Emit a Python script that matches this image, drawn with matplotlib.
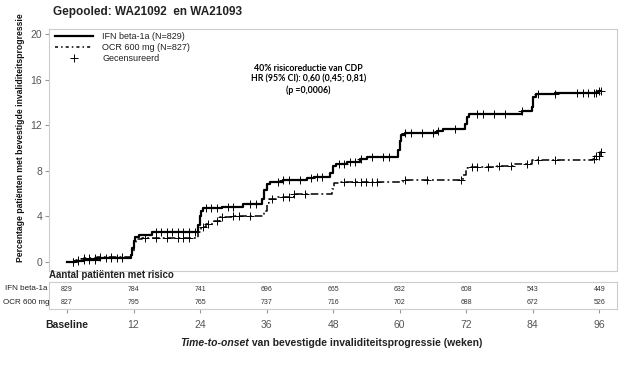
import numpy as np
import matplotlib
matplotlib.use("Agg")
import matplotlib.pyplot as plt
from matplotlib.lines import Line2D

plt.rcParams['font.family'] = ['Liberation Sans', 'DejaVu Sans']

# ---------------- data ----------------
ifn_t = [0, 1.5, 3, 6, 11.5, 11.8, 12.0, 12.3, 13.0, 15.3, 23.6, 23.9, 24.2, 24.6,
         28, 31.8, 35.2, 35.6, 36.0, 36.6, 39, 43.3, 44.5, 47.5, 47.9, 48.5, 50.5,
         52.9, 54.1, 59.7, 60.0, 60.3, 61, 66.8, 67.9, 71.8, 72.1, 72.5, 82, 83.8,
         84.1, 84.5, 88.1, 95.8]
ifn_v = [0, 0.1, 0.2, 0.3, 0.6, 1.2, 1.8, 2.2, 2.35, 2.6, 3.2, 4.0, 4.5, 4.7,
         4.85, 5.1, 5.5, 6.3, 6.8, 7.0, 7.2, 7.35, 7.45, 7.8, 8.4, 8.6, 8.8,
         9.0, 9.2, 9.8, 10.6, 11.1, 11.3, 11.5, 11.7, 12.1, 12.7, 13.0, 13.2, 13.6,
         14.5, 14.7, 14.85, 15.0]
ifn_cens = [1, 2, 3, 4, 5, 7, 8, 9, 10, 16, 17, 18, 19, 20, 21, 22, 23, 25, 26, 27,
            29, 30, 33, 34, 38, 39, 40, 42, 44, 45, 46, 49, 50, 51, 52, 53, 55, 57,
            58, 61, 62, 64, 66, 67, 70, 74, 75, 77, 79, 82, 85, 88, 92, 93, 94, 95,
            95.5, 96, 96.3]

ocr_t = [0, 1.5, 3, 5.5, 11.6, 12.0, 12.4, 13.5, 23.6, 24.1, 25.0, 26.5, 27.6, 30,
         35.6, 36.0, 36.4, 38, 41, 47.8, 48.2, 49, 60.6, 71.5, 71.9, 72.3, 77.6,
         80.5, 83.9, 94.8, 95.5, 96.1]
ocr_v = [0, 0.15, 0.3, 0.4, 0.8, 1.6, 2.0, 2.1, 2.6, 3.1, 3.3, 3.6, 3.9, 4.0,
         4.5, 5.2, 5.5, 5.7, 6.0, 6.4, 6.9, 7.0, 7.2, 7.6, 8.2, 8.3, 8.4,
         8.55, 8.9, 9.05, 9.25, 9.6]
ocr_cens = [1, 2, 3, 4, 5, 6, 8, 10, 14, 16, 18, 20, 21, 22, 24.5, 25.5, 27, 28, 30,
            31, 33, 37, 39, 40, 41, 43, 50, 52, 53, 54, 55, 56, 61, 65, 71, 73, 74,
            76, 78, 80, 83, 85, 88, 95, 95.5, 96, 96.3]

xticks = [0, 12, 24, 36, 48, 60, 72, 84, 96]
xticklabels = ["Baseline", "12", "24", "36", "48", "60", "72", "84", "96"]
yticks = [0, 4, 8, 12, 16, 20]
ifn_risk = [829, 784, 741, 696, 665, 632, 608, 543, 449]
ocr_risk = [827, 795, 765, 737, 716, 702, 688, 672, 526]

ifn_label = "IFN beta-1a (N=829)"
ocr_label = "OCR 600 mg (N=827)"
cens_label = "Gecensureerd"

# ---------------- figure ----------------
fig = plt.figure(figsize=(6.24, 3.67), dpi=100)
ax = fig.add_axes([0.0785, 0.2616, 0.9103, 0.6594])
xlim = (-3.25, 99.2)
ax.set_xlim(*xlim)
ax.set_ylim(-0.8, 20.44)

def step_val(times, vals, t):
    i = np.searchsorted(times, t, side='right') - 1
    return vals[max(i, 0)]

ifn_end = 96.3
ocr_end = 96.3
ax.step(ifn_t + [ifn_end], ifn_v + [ifn_v[-1]], where='post', color='black', lw=1.6)
ax.step(ocr_t + [ocr_end], ocr_v + [ocr_v[-1]], where='post', color='black', lw=1.1,
        dashes=[5, 2, 1.2, 2])

ax.plot(ifn_cens, [step_val(ifn_t, ifn_v, t) for t in ifn_cens], ls='none',
        marker='+', ms=6, mew=0.7, color='black')
ax.plot(ocr_cens, [step_val(ocr_t, ocr_v, t) for t in ocr_cens], ls='none',
        marker='+', ms=6, mew=0.7, color='black')

ax.set_yticks(yticks)
ax.set_yticklabels([str(v) for v in yticks], fontsize=7.5, color='#555555')
ax.set_xticks([])
ax.tick_params(axis='y', length=3, color='#999999', pad=2)
for s in ax.spines.values():
    s.set_color('#cccccc')
    s.set_linewidth(0.8)

fig.text(21/624, 1 - 138/367,
         "Percentage patiënten met bevestigde invaliditeitsprogressie",
         fontsize=6.2, fontweight='bold', rotation=90, ha='center', va='center',
         color='#111111')

handles = [Line2D([], [], color='black', lw=1.6),
           Line2D([], [], color='black', lw=1.1, dashes=[2, 2, 1, 2]),
           Line2D([], [], ls='none', marker='+', ms=6, mew=0.7, color='black')]
leg = ax.legend(handles, [ifn_label, ocr_label, cens_label], loc='upper left',
                bbox_to_anchor=(0.0, 1.015), frameon=False, fontsize=6.5,
                handlelength=4.2, handletextpad=1.0, labelspacing=0.25,
                borderaxespad=0.3)
for t in leg.get_texts():
    t.set_color('#222222')

ax.text(0.457, 0.855, "40% risicoreductie van CDP\nHR (95% CI): 0,60 (0,45; 0,81)\n(p =0,0006)",
        transform=ax.transAxes, ha='center', va='top', fontsize=6.3,
        fontweight='bold', family=['Lato', 'DejaVu Sans'], linespacing=1.25)

fig.text(53/624, 1 - 12/367, "Gepooled: WA21092  en WA21093", fontsize=8.5,
         fontweight='bold', ha='left', va='center', color='#222222')

# risk table
rax = fig.add_axes([0.0785, 0.158, 0.9103, 0.074])
rax.set_xlim(*xlim)
rax.set_ylim(0, 2)
for x, a, b in zip(xticks, ifn_risk, ocr_risk):
    rax.text(x, 1.45, str(a), ha='center', va='center', fontsize=5, color='#333333')
    rax.text(x, 0.5, str(b), ha='center', va='center', fontsize=5, color='#333333')
rax.set_yticks([])
rax.set_xticks(xticks)
rax.set_xticklabels(xticklabels, fontsize=7.5, color='#555555')
rax.get_xticklabels()[0].set_fontweight('bold')
rax.get_xticklabels()[0].set_color('#222222')
rax.tick_params(axis='x', length=3, color='#999999', pad=5)
for s in rax.spines.values():
    s.set_color('#cccccc')
    s.set_linewidth(0.8)

fig.text(49/624, 1 - 275/367, "Aantal patiënten met risico", fontsize=7,
         fontweight='bold', ha='left', va='center', color='#222222')
fig.text(5/624, 1 - 288/367, "IFN beta-1a", fontsize=5.8, ha='left', va='center',
         color='#222222')
fig.text(3/624, 1 - 303/367, "OCR 600 mg", fontsize=5.8, ha='left', va='center',
         color='#222222')

# x-axis title with italic part
t1 = fig.text(0, 1 - 343/367, "Time-to-onset", fontsize=7.5, fontweight='bold',
              style='italic', ha='left', va='center', color='#222222')
t2 = fig.text(0, 1 - 343/367, " van bevestigde invaliditeitsprogressie (weken)",
              fontsize=7.5, fontweight='bold', ha='left', va='center', color='#222222')
fig.canvas.draw()
r = fig.canvas.get_renderer()
w1 = t1.get_window_extent(r).width / fig.bbox.width
w2 = t2.get_window_extent(r).width / fig.bbox.width
x0 = 331/624 - (w1 + w2) / 2
t1.set_x(x0)
t2.set_x(x0 + w1)

fig.savefig("out.png", dpi=100, facecolor='white')
